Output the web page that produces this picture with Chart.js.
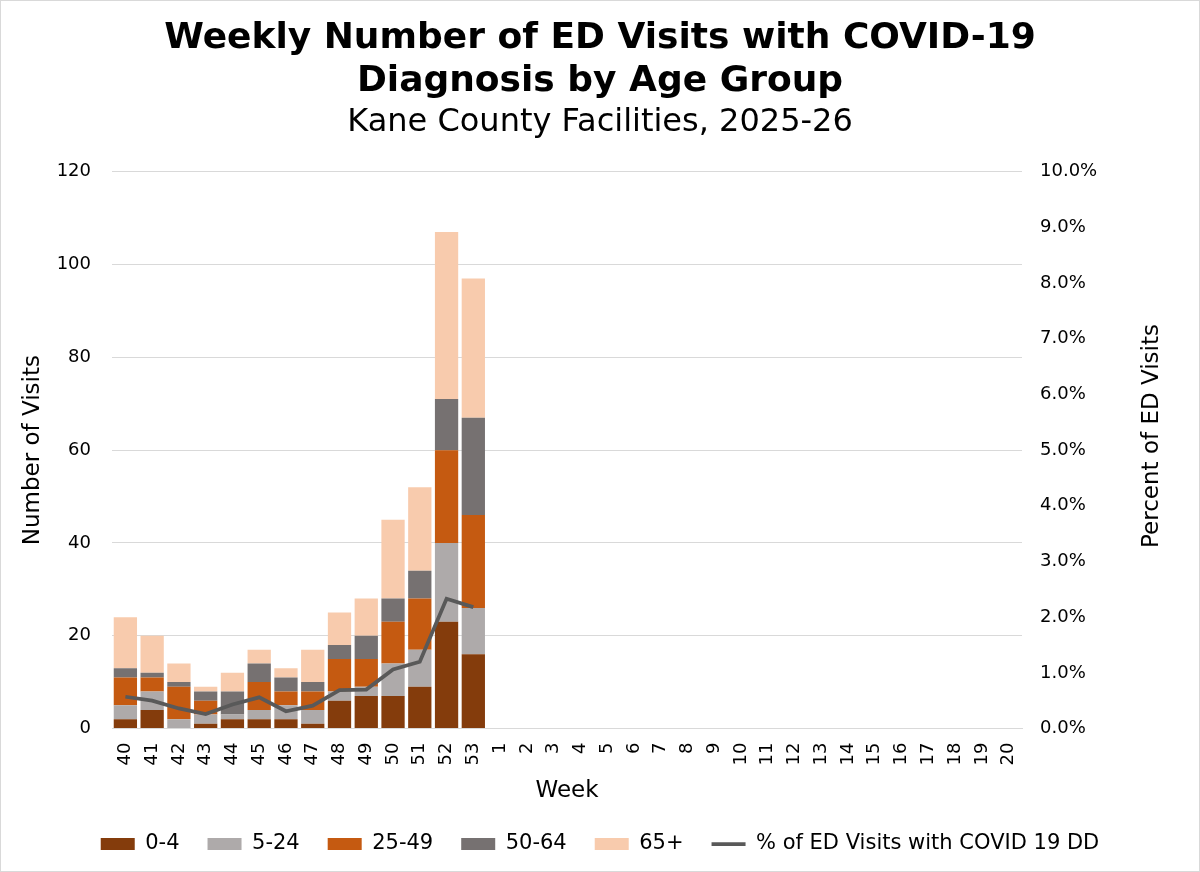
<!DOCTYPE html>
<html>
<head>
<meta charset="utf-8">
<script src="https://cdn.jsdelivr.net/npm/chart.js@4.4.1/dist/chart.umd.min.js"></script>
<style>
  html, body { margin: 0; padding: 0; background: #fff; }
  #wrap { width: 1200px; height: 872px; box-sizing: border-box; border: 1px solid #d9d9d9; }
</style>
</head>
<body>
<div id="wrap"><canvas id="grafico"></canvas></div>
<script>
// semanas (eixo X)
var weeks = ['40','41','42','43','44','45','46','47','48','49','50','51','52','53',
             '1','2','3','4','5','6','7','8','9','10','11','12','13','14','15','16','17','18','19','20'];

// visitas por faixa etaria
var age0to4   = [2, 4, 0, 1, 2, 2, 2, 1, 6, 7, 7, 9, 23, 16];
var age5to24  = [3, 4, 2, 2, 1, 2, 3, 3, 2, 2, 7, 8, 17, 10];
var age25to49 = [6, 3, 7, 3, 0, 6, 3, 4, 7, 6, 9, 11, 20, 20];
var age50to64 = [2, 1, 1, 2, 5, 4, 3, 2, 3, 5, 5, 6, 11, 21];
var age65plus = [11, 8, 4, 1, 4, 3, 2, 7, 7, 8, 17, 18, 36, 30];

// % das visitas ED com diagnostico COVID
var pctCovid = [0.57, 0.50, 0.36, 0.26, 0.43, 0.56, 0.31, 0.41, 0.69, 0.70, 1.06, 1.20, 2.33, 2.18];

var leftTicks = [0, 20, 40, 60, 80, 100, 120];
var rightTitle = 'Percent of ED Visits';

var fonte = "'DejaVu Sans', Verdana, sans-serif";
Chart.defaults.font.family = fonte;
Chart.defaults.color = '#000';

function barra(nome, valores, cor) {
  return {
    type: 'bar',
    label: nome,
    data: valores,
    backgroundColor: cor,
    borderWidth: 0,
    yAxisID: 'y',
    stack: 'idade',
    order: 1,
    pointStyle: 'rect',
    barPercentage: 0.87,
    categoryPercentage: 1
  };
}

// titulo do eixo direito, lido de baixo para cima
var tituloDireito = {
  id: 'tituloDireito',
  afterDraw: function(chart) {
    var c = chart.ctx;
    c.save();
    c.translate(1151, 435);
    c.rotate(-Math.PI / 2);
    c.font = "23px " + fonte;
    c.fillStyle = '#000';
    c.textAlign = 'center';
    c.textBaseline = 'middle';
    c.fillText(rightTitle, 0, 0);
    c.restore();
  }
};

var ctx = document.getElementById('grafico').getContext('2d');
var grafico = new Chart(ctx, {
  data: {
    labels: weeks,
    datasets: [
      barra('0-4', age0to4, '#843C0C'),
      barra('5-24', age5to24, '#AEAAAA'),
      barra('25-49', age25to49, '#C55A11'),
      barra('50-64', age50to64, '#767171'),
      barra('65+', age65plus, '#F8CBAD'),
      {
        type: 'line',
        label: '% of ED Visits with COVID 19 DD',
        data: pctCovid,
        borderColor: '#595959',
        backgroundColor: '#595959',
        borderWidth: 3.75,
        pointRadius: 0,
        pointStyle: 'line',
        tension: 0,
        yAxisID: 'y1',
        order: 0
      }
    ]
  },
  plugins: [tituloDireito],
  options: {
    responsive: true,
    maintainAspectRatio: false,
    animation: false,
    layout: { padding: { left: 14, right: 14, top: 0, bottom: 6.5 } },
    plugins: {
      title: {
        display: true,
        text: ['Weekly Number of ED Visits with COVID-19', 'Diagnosis by Age Group'],
        font: { size: 36, weight: 'bold', lineHeight: 1.2 },
        padding: { top: 16, bottom: 0 }
      },
      subtitle: {
        display: true,
        text: 'Kane County Facilities, 2025-26',
        font: { size: 32, lineHeight: 1.2 },
        padding: { top: 0, bottom: 30 }
      },
      legend: {
        position: 'bottom',
        labels: {
          usePointStyle: true,
          pointStyleWidth: 34,
          boxHeight: 12,
          padding: 28,
          font: { size: 21 },
          sort: function(a, b) { return a.datasetIndex - b.datasetIndex; }
        }
      },
      tooltip: { enabled: false }
    },
    scales: {
      x: {
        grid: { display: false, drawTicks: false },
        border: { color: '#d9d9d9' },
        ticks: { minRotation: 90, maxRotation: 90, autoSkip: false, font: { size: 18 }, padding: 14 },
        title: { display: true, text: 'Week', font: { size: 23, lineHeight: 1.2 }, padding: { top: 11, bottom: 1 } },
        afterFit: function(axis) { axis.height = 77; }
      },
      y: {
        position: 'left',
        stacked: true,
        min: 0,
        max: 120,
        afterBuildTicks: function(axis) { axis.ticks = leftTicks.map(function(v) { return { value: v }; }); },
        grid: { color: '#d9d9d9', drawTicks: false },
        border: { display: false },
        ticks: { font: { size: 18 }, padding: 21 },
        title: { display: true, text: 'Number of Visits', font: { size: 23, lineHeight: 1.2 }, padding: { top: 4, bottom: 10 } },
        afterFit: function(axis) { axis.width = 97; }
      },
      y1: {
        position: 'right',
        min: 0,
        max: 10,
        grid: { display: false, drawTicks: false },
        border: { display: false },
        ticks: {
          stepSize: 1,
          font: { size: 18 },
          padding: 18,
          callback: function(v) { return v.toFixed(1) + '%'; }
        },
        afterFit: function(axis) { axis.width = 163; }
      }
    }
  }
});
</script>
</body>
</html>
